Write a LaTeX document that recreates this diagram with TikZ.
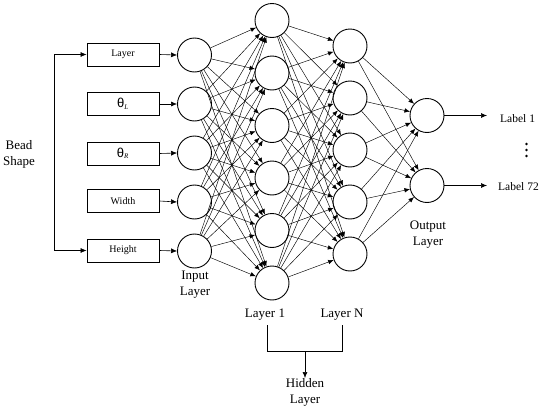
\documentclass[tikz,border=0pt]{standalone}
\usepackage{fontspec}
\setmainfont{Liberation Serif}
\newfontfamily\thetafont{Liberation Sans}
\usetikzlibrary{arrows.meta}
\begin{document}
\begin{tikzpicture}[x=1pt,y=-1pt,
  neuron/.style={circle,draw,line width=0.9pt,minimum size=34pt,inner sep=0pt},
  inbox/.style={rectangle,draw,line width=0.9pt,minimum width=72pt,minimum height=23pt,inner sep=0pt,font=\fontsize{10}{12}\selectfont},
  conn/.style={line width=0.45pt,-{Latex[length=5.5pt,width=4.5pt]}},
  arr/.style={line width=0.6pt,-{Latex[length=6pt,width=5pt]}},
  lbl/.style={font=\fontsize{13}{16}\selectfont,align=center,inner sep=0pt},
  outlbl/.style={font=\fontsize{11.5}{14}\selectfont,inner sep=0pt}]
\useasboundingbox (0,0) rectangle (550,407);
% input boxes
\node[inbox] (b1) at (123,54.5) {Layer};
\node[inbox] (b2) at (123,104) {{\thetafont\fontsize{13}{14}\selectfont θ}\textsubscript{\textit{L}}};
\node[inbox] (b3) at (123,153.5) {{\thetafont\fontsize{13}{14}\selectfont θ}\textsubscript{\textit{R}}};
\node[inbox] (b4) at (123,201) {Width};
\node[inbox] (b5) at (123,250.5) {Height};
% bead shape
\node[lbl] (bead) at (19,154) {Bead\\Shape};
\coordinate (bt) at (54,54.5);
\coordinate (bb) at (54,250.5);
\draw[line width=0.6pt,{Latex[length=6pt,width=5pt]}-{Latex[length=6pt,width=5pt]}] (b1.west) -- (bt) -- (bb) -- (b5.west);
% input neurons
\foreach \i/\y in {1/55,2/104,3/153,4/202,5/251}{
  \node[neuron] (i\i) at (194.5,\y) {};
  \draw[arr] (b\i.east) -- (i\i.west);
}
% hidden layer 1
\foreach \i/\y in {1/20.5,2/73,3/125.5,4/178,5/230.5,6/283}{
  \node[neuron] (h\i) at (272,\y) {};
}
% hidden layer N
\foreach \i/\y in {1/46,2/98,3/150,4/202,5/254}{
  \node[neuron] (n\i) at (350,\y) {};
}
% output
\node[neuron] (o1) at (427,115.5) {};
\node[neuron] (o2) at (427,185.5) {};
% connections
\foreach \a in {1,...,5}{\foreach \b in {1,...,6}{\draw[conn] (i\a) -- (h\b);}}
\foreach \a in {1,...,6}{\foreach \b in {1,...,5}{\draw[conn] (h\a) -- (n\b);}}
\foreach \a in {1,...,5}{\foreach \b in {1,2}{\draw[conn] (n\a) -- (o\b);}}
% outputs
\coordinate (e1) at (487,115.5);
\coordinate (e2) at (487,185.5);
\draw[arr] (o1.east) -- (e1);
\draw[arr] (o2.east) -- (e2);
\node[outlbl,anchor=west] (l1) at (500,119) {Label 1};
\node[outlbl,anchor=west] (l72) at (498,187) {Label 72};
\foreach \y in {144,150,156}{\fill (526.5,\y) circle (1.3pt);}
% layer labels
\node[lbl] (inlab) at (195,285) {Input\\Layer};
\node[lbl] (outlab) at (428,235) {Output\\Layer};
\node[lbl] (lay1) at (265,315) {Layer 1};
\node[lbl] (layN) at (342,315) {Layer N};
\node[lbl,anchor=north] (hid) at (305,378) {Hidden\\Layer};
\coordinate (c1) at (267,325);
\coordinate (c2) at (342,325);
\coordinate (c3) at (267,351);
\coordinate (c4) at (342,351);
\coordinate (cm) at (305,351);
\draw[line width=0.6pt] (c1) -- (c3) -- (c4) -- (c2);
\draw[arr] (cm) -- (hid.north);
\end{tikzpicture}
\end{document}
